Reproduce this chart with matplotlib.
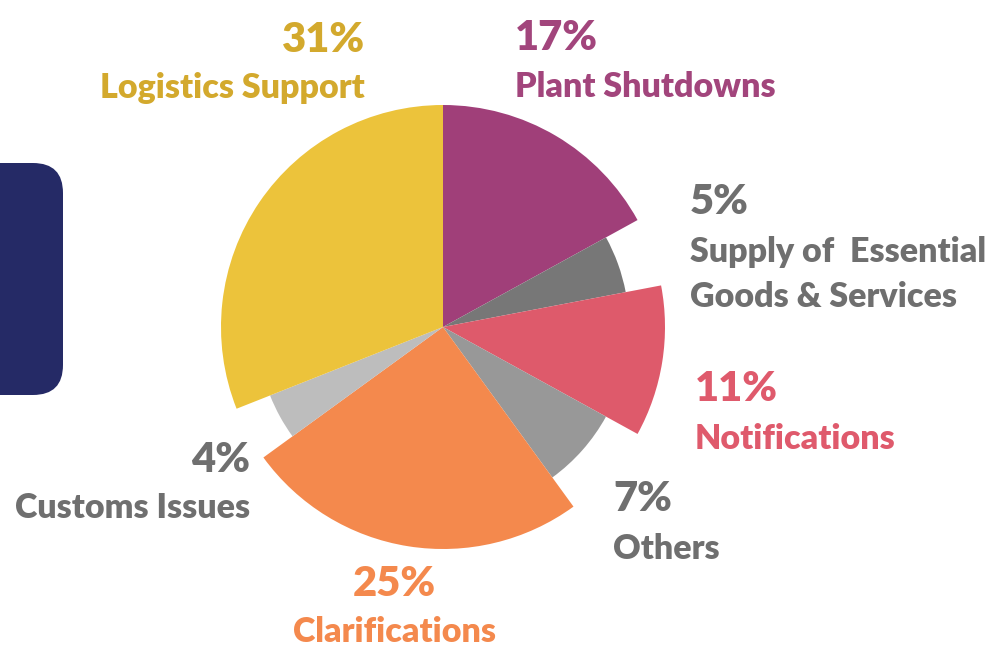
import matplotlib
matplotlib.use("Agg")
import matplotlib.pyplot as plt
from matplotlib.patches import FancyBboxPatch

categories = ["Plant Shutdowns", "Supply of  Essential\nGoods & Services", "Notifications",
              "Others", "Clarifications", "Customs Issues", "Logistics Support"]
values = [17, 5, 11, 7, 25, 4, 31]
pct_labels = ["17%", "5%", "11%", "7%", "25%", "4%", "31%"]
slice_colors = ["#A03F79", "#777777", "#DE5A6B", "#989898", "#F4894D", "#BDBDBD", "#ECC33B"]
text_colors = ["#A2457C", "#6F6F6F", "#DF5A6C", "#6F6F6F", "#F4894D", "#6F6F6F", "#D3A92D"]
big_slice = [True, False, True, False, True, False, True]

W, H = 995, 646
fig = plt.figure(figsize=(W / 100, H / 100), dpi=100)
ax = fig.add_axes([0, 0, 1, 1])

cx, cy = 443, H - 327
R_big, R_small = 222, 186
wedges, _ = ax.pie(values, colors=slice_colors, startangle=90, counterclock=False,
                   radius=R_big, center=(cx, cy), frame=True,
                   wedgeprops=dict(linewidth=0))
for w, big in zip(wedges, big_slice):
    w.set_radius(R_big if big else R_small)
ax.set_xlim(0, W)
ax.set_ylim(0, H)
ax.set_aspect("equal")
ax.axis("off")

# dark rounded box at left
box = FancyBboxPatch((-60, H - 395), 123, 232, boxstyle="round,pad=0,rounding_size=30",
                     facecolor="#252A66", edgecolor="none")
ax.add_patch(box)

FONT = "Lato"
PCT_SIZE = 30
LAB_SIZE = 24.5
WEIGHT = "heavy"

# (x, pct_baseline_y, label_baseline_y, ha)
label_pos = [
    (515, 50, 97, "left"),
    (690, 214, 262, "left"),
    (695, 401, 449, "left"),
    (613, 511, 559, "left"),
    (394, 596, 642, "center"),
    (250, 472, 518, "right"),
    (365, 52, 98, "right"),
]

for i, (x, py, ly, ha) in enumerate(label_pos):
    ax.text(x, H - py, pct_labels[i], ha=ha, va="baseline", fontsize=PCT_SIZE,
            fontweight=WEIGHT, family=FONT, color=text_colors[i])
    lines = categories[i].split("\n")
    for j, line in enumerate(lines):
        ax.text(x, H - ly - j * 45, line, ha=ha, va="baseline", fontsize=LAB_SIZE,
                fontweight=WEIGHT, family=FONT, color=text_colors[i])

fig.savefig("out.png", dpi=100)
